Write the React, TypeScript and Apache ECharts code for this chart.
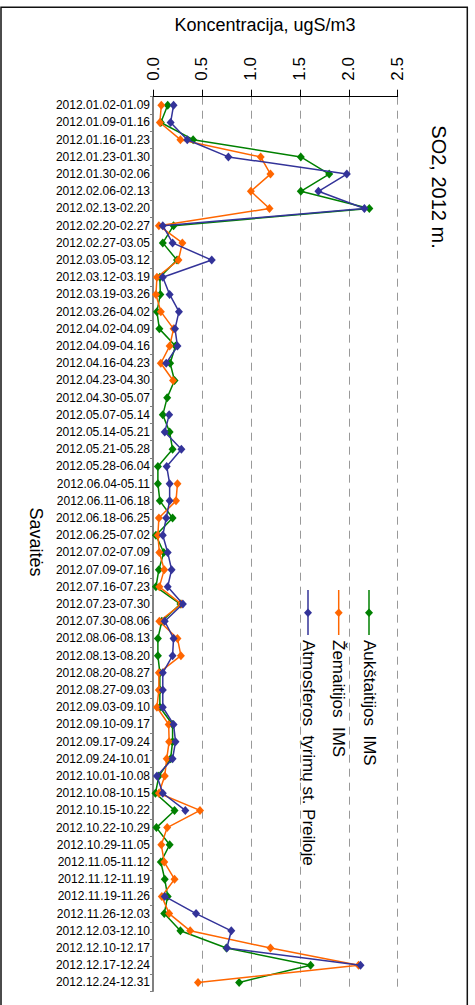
import React, { useEffect, useRef } from "react";
import * as echarts from "echarts";

const categories = [
  "2012.01.02-01.09", "2012.01.09-01.16", "2012.01.16-01.23", "2012.01.23-01.30",
  "2012.01.30-02.06", "2012.02.06-02.13", "2012.02.13-02.20", "2012.02.20-02.27",
  "2012.02.27-03.05", "2012.03.05-03.12", "2012.03.12-03.19", "2012.03.19-03.26",
  "2012.03.26-04.02", "2012.04.02-04.09", "2012.04.09-04.16", "2012.04.16-04.23",
  "2012.04.23-04.30", "2012.04.30-05.07", "2012.05.07-05.14", "2012.05.14-05.21",
  "2012.05.21-05.28", "2012.05.28-06.04", "2012.06.04-05.11", "2012.06.11-06.18",
  "2012.06.18-06.25", "2012.06.25-07.02", "2012.07.02-07.09", "2012.07.09-07.16",
  "2012.07.16-07.23", "2012.07.23-07.30", "2012.07.30-08.06", "2012.08.06-08.13",
  "2012.08.13-08.20", "2012.08.20-08.27", "2012.08.27-09.03", "2012.09.03-09.10",
  "2012.09.10-09.17", "2012.09.17-09.24", "2012.09.24-10.01", "2012.10.01-10.08",
  "2012.10.08-10.15", "2012.10.15-10.22", "2012.10.22-10.29", "2012.10.29-11.05",
  "2012.11.05-11.12", "2012.11.12-11.19", "2012.11.19-11.26", "2012.11.26-12.03",
  "2012.12.03-12.10", "2012.12.10-12.17", "2012.12.17-12.24", "2012.12.24-12.31",
];

const aukstaitijos = [
  0.15, 0.08, 0.41, 1.51, 1.8, 1.51, 2.21, 0.21, 0.1, 0.245, 0.07, 0.075, 0.04,
  0.065, 0.23, 0.175, 0.22, 0.145, 0.1, 0.17, 0.2, 0.05, 0.05, 0.07, 0.2, 0.03,
  0.11, 0.06, 0.03, 0.28, 0.09, 0.05, 0.05, 0.07, 0.07, 0.07, 0.2, 0.2, 0.18,
  0.06, 0.025, 0.22, 0.035, 0.17, 0.08, 0.12, 0.15, 0.115, 0.28, 0.75, 1.61, 0.88,
];

const zemaitijos: (number | string)[] = [
  0.085, 0.07, 0.28, 1.1, 1.2, 1.0, 1.19, 0.06, 0.3, 0.26, 0.04, 0.03, 0.08,
  0.21, 0.17, 0.08, 0.205, "-", "-", "-", "-", "-", 0.25, 0.235, 0.06, 0.05,
  0.065, 0.115, 0.065, 0.29, 0.065, 0.25, 0.285, 0.06, 0.06, 0.04, 0.16, 0.165, 0.14,
  0.12, 0.06, 0.48, 0.145, 0.085, 0.115, 0.22, 0.09, 0.165, 0.38, 1.2, 2.1, 0.46,
];

const preila: (number | string)[] = [
  0.21, 0.18, 0.35, 0.77, 1.98, 1.69, 2.16, 0.1, 0.2, 0.6, 0.1, 0.17, 0.265,
  0.225, 0.25, 0.135, "-", "-", 0.165, 0.12, 0.29, 0.14, 0.17, 0.17, 0.135, 0.1,
  0.15, 0.19, 0.15, 0.305, 0.12, 0.21, 0.2, 0.1, 0.1, 0.1, 0.21, 0.23, 0.2,
  0.04, 0.1, 0.33, "-", "-", "-", "-", 0.12, 0.44, 0.8, 0.755, 2.12, "-",
];

const seriesNames = ["Aukštaitijos  IMS", "Žemaitijos  IMS", "Atmosferos  tyrimų st. Preiloje"];
const seriesColors = ["#008000", "#ff6600", "#333399"];
const valueTicks = [0, 0.5, 1, 1.5, 2, 2.5];

const FONT = "'Liberation Sans', Arial, sans-serif";

export default function App() {
  const ref = useRef<HTMLDivElement>(null);
  useEffect(() => {
    if (!ref.current) return;
    const chart = echarts.init(ref.current, undefined, { renderer: "svg" });
    const allData = [aukstaitijos, zemaitijos, preila];
    const legendX = [369, 338.7, 308];
    const legendGraphics: any[] = [];
    seriesNames.forEach((n, i) => {
      const cx = legendX[i];
      legendGraphics.push({
        type: "line",
        shape: { x1: cx, y1: 590, x2: cx, y2: 635 },
        style: { stroke: seriesColors[i], lineWidth: 1.5 },
      });
      legendGraphics.push({
        type: "polygon",
        shape: { points: [[cx, 608.5], [cx + 4, 612.7], [cx, 617], [cx - 4, 612.7]] },
        style: { fill: seriesColors[i] },
      });
      legendGraphics.push({
        type: "text",
        x: cx,
        y: 640,
        rotation: -Math.PI / 2,
        style: {
          text: n,
          fontSize: 17,
          fontFamily: FONT,
          fill: "#000",
          textAlign: "left",
          textVerticalAlign: "middle",
        },
      });
    });

    chart.setOption({
      animation: false,
      backgroundColor: "#fff",
      grid: { left: 153, right: 77.3, top: 96.7, bottom: 14, containLabel: false },
      xAxis: {
        type: "value",
        position: "top",
        min: valueTicks[0],
        max: valueTicks[valueTicks.length - 1],
        interval: 0.5,
        axisLine: { show: true, lineStyle: { color: "#000", width: 1 } },
        axisTick: { show: true, length: 7, inside: false, lineStyle: { color: "#000" } },
        axisLabel: {
          rotate: -90,
          margin: 16,
          fontSize: 17,
          fontFamily: FONT,
          color: "#000",
          formatter: (v: number) => v.toFixed(1),
        },
        splitLine: {
          show: true,
          lineStyle: { color: "#999", type: [8, 6], width: 1 },
        },
      },
      yAxis: {
        type: "category",
        inverse: true,
        data: categories,
        axisLine: { show: true, lineStyle: { color: "#808080", width: 2 } },
        axisTick: { show: true, length: 3, lineStyle: { color: "#808080" } },
        axisLabel: { fontSize: 12, fontFamily: FONT, color: "#000", margin: 3, interval: 0 },
        splitLine: { show: false },
      },
      series: allData.map((d, i) => ({
        name: seriesNames[i],
        type: "line",
        data: d,
        symbol: "diamond",
        symbolSize: [8, 9],
        showAllSymbol: true,
        connectNulls: false,
        itemStyle: { color: seriesColors[i] },
        lineStyle: { color: seriesColors[i], width: 1.5 },
        z: 2 + i,
      })),
      graphic: [
        {
          type: "rect",
          shape: { x: 1, y: 7.3, width: 466.3, height: 1010 },
          style: { fill: "none", stroke: "#111", lineWidth: 1.5 },
          silent: true,
        },
        {
          type: "text",
          x: 265,
          y: 25,
          style: {
            text: "Koncentracija, ugS/m3",
            fontSize: 18,
            fontFamily: FONT,
            fill: "#000",
            textAlign: "center",
            textVerticalAlign: "middle",
          },
        },
        {
          type: "text",
          x: 439,
          y: 187,
          rotation: -Math.PI / 2,
          style: {
            text: "SO2, 2012 m.",
            fontSize: 20,
            fontFamily: FONT,
            fill: "#000",
            textAlign: "center",
            textVerticalAlign: "middle",
          },
        },
        {
          type: "text",
          x: 36,
          y: 542,
          rotation: -Math.PI / 2,
          style: {
            text: "Savaitės",
            fontSize: 18,
            fontFamily: FONT,
            fill: "#000",
            textAlign: "center",
            textVerticalAlign: "middle",
          },
        },
        ...legendGraphics,
      ],
    });
    return () => chart.dispose();
  }, []);
  return (
    <div
      ref={ref}
      style={{ position: "fixed", left: 0, top: 0, width: 475, height: 1005 }}
    />
  );
}
